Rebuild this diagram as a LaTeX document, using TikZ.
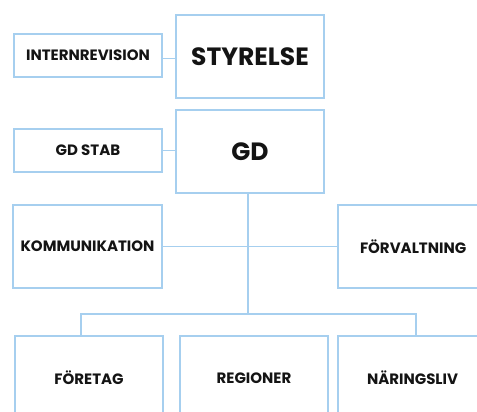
\documentclass[tikz,border=0pt]{standalone}
\usepackage{fontspec}
\setmainfont{Poppins}
\definecolor{lineblue}{HTML}{A6CFEF}
\definecolor{txt}{HTML}{141414}
\tikzset{
  box/.style={draw=lineblue, line width=1.6pt, fill=white, inner sep=0pt, text=txt, font=\bfseries\fontsize{15}{18}\selectfont},
  bigbox/.style={box, font=\bfseries\fontsize{25}{30}\selectfont},
  conn/.style={draw=lineblue, line width=1.6pt}
}
\begin{document}
\begin{tikzpicture}[x=1pt,y=-1pt]
\useasboundingbox (0,0) rectangle (477,412);
\clip (0,0) rectangle (477,412);
\fill[white] (0,0) rectangle (477,412);
\node[bigbox, minimum width=148pt, minimum height=83pt] (styr) at (250,56.5) {STYRELSE};
\node[box, minimum width=148pt, minimum height=43pt] (irev) at (88,55.5) {INTERNREVISION};
\node[bigbox, minimum width=148pt, minimum height=83pt] (gd) at (250,151.5) {GD};
\node[box, minimum width=148pt, minimum height=43pt] (gdstab) at (88,150.5) {GD STAB};
\node[box, minimum width=149pt, minimum height=83pt] (komm) at (87.5,246.5) {KOMMUNIKATION};
\node[box, minimum width=148pt, minimum height=83pt, text width=148pt, align=left] (forv) at (412,246.5) {\hspace{22pt}FÖRVALTNING};
\coordinate (bus) at (248,314);
\node[box, minimum width=148pt, minimum height=84pt] (foretag) at (89,378) {FÖRETAG};
\node[box, minimum width=148pt, minimum height=84pt] (region) at (254,378) {REGIONER};
\node[box, minimum width=148pt, minimum height=84pt, text width=148pt, align=left] (naring) at (412,378) {\hspace{29pt}NÄRINGSLIV};
\draw[conn] ([yshift=-3pt]irev.east) -- ([yshift=-3pt]irev.east -| styr.west);
\draw[conn] (gdstab.east) -- (gdstab.east -| gd.west);
\draw[conn] (gd.south -| bus) -- (bus);
\draw[conn] (komm.east) -- (forv.west);
\draw[conn] ([xshift=-8pt]foretag.north) |- (bus) -| ([xshift=4pt]naring.north);
\end{tikzpicture}
\end{document}
